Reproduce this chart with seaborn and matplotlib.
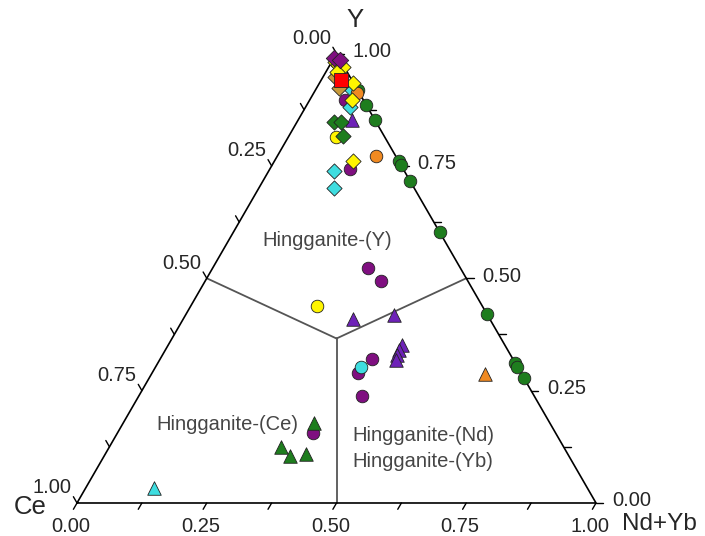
import numpy as np
import matplotlib
matplotlib.use("Agg")
import matplotlib.pyplot as plt
import seaborn as sns

sns.set_style("white")
plt.rcParams['font.family'] = ['Liberation Sans', 'DejaVu Sans']

# ---- data: ternary fractions (Y, Nd+Yb, Ce) ----
purple_diamond_Y  = [0.990, 0.985]
purple_diamond_Nd = [0.000, 0.015]

yellow_diamond_Y  = [0.981, 0.974, 0.970, 0.959, 0.934, 0.897, 0.761]
yellow_diamond_Nd = [0.007, 0.016, 0.027, 0.021, 0.064, 0.081, 0.151]

tan_diamond_Y  = [0.948, 0.923]
tan_diamond_Nd = [0.023, 0.043]

red_square_Y  = [0.941]
red_square_Nd = [0.038]

cyan_diamond_Y  = [0.919, 0.881, 0.739, 0.701]
cyan_diamond_Nd = [0.070, 0.085, 0.126, 0.145]

orange_circle_Y  = [0.912, 0.772]
orange_circle_Nd = [0.083, 0.190]

green_circle_Y  = [0.919, 0.885, 0.852, 0.761, 0.752, 0.716, 0.603, 0.420, 0.311, 0.303, 0.278]
green_circle_Nd = [0.081, 0.115, 0.148, 0.239, 0.248, 0.284, 0.397, 0.580, 0.689, 0.697, 0.722]

green_diamond_Y  = [0.848, 0.848, 0.817]
green_diamond_Nd = [0.071, 0.085, 0.104]

purple_circle_Y  = [0.897, 0.743, 0.523, 0.494, 0.320, 0.289, 0.238, 0.156]
purple_circle_Nd = [0.068, 0.154, 0.299, 0.339, 0.408, 0.397, 0.430, 0.377]

violet_triangle_Y  = [0.852, 0.409, 0.418, 0.352, 0.340, 0.329, 0.318]
violet_triangle_Nd = [0.104, 0.327, 0.402, 0.450, 0.450, 0.452, 0.456]

yellow_circle_Y  = [0.814, 0.438]
yellow_circle_Nd = [0.092, 0.243]

cyan_circle_Y  = [0.303]
cyan_circle_Nd = [0.396]

orange_triangle_Y  = [0.287]
orange_triangle_Nd = [0.643]

green_triangle_Y  = [0.178, 0.125, 0.105, 0.109]
green_triangle_Nd = [0.368, 0.331, 0.358, 0.387]

cyan_triangle_Y  = [0.033]
cyan_triangle_Nd = [0.132]

# field boundaries (Y, Nd+Yb): center point and edge midpoints
center_Y, center_Nd = 0.366, 0.317
boundary_Y  = [0.5, 0.5, 0.0]
boundary_Nd = [0.0, 0.5, 0.5]

tick_values = [0.0, 0.25, 0.5, 0.75, 1.0]
tick_labels = ["0.00", "0.25", "0.50", "0.75", "1.00"]
minor_ticks = [0.125, 0.375, 0.625, 0.875]

H = np.sqrt(3) / 2


def tern(Y, Nd):
    Y = np.asarray(Y, float)
    Nd = np.asarray(Nd, float)
    return Nd + Y / 2, Y * H


fig = plt.figure(figsize=(7.05, 5.36), dpi=100)
ax = fig.add_axes([0, 0, 1, 1])
ax.set_xlim(-0.1484, 1.2100)
ax.set_ylim(-0.0636, 0.9692)
ax.axis("off")

# triangle outline
tx, ty = tern([0, 0, 1, 0], [0, 1, 0, 0])
ax.plot(tx, ty, color="black", lw=1.2, zorder=2, solid_joinstyle="miter")

# boundaries
cx, cy = tern([center_Y], [center_Nd])
for by, bn in zip(boundary_Y, boundary_Nd):
    ex, ey = tern([by], [bn])
    ax.plot([cx[0], ex[0]], [cy[0], ey[0]], color="#555555", lw=1.3, zorder=1)

# ticks
L = 0.014
for t in tick_values + minor_ticks:
    # bottom axis (Nd+Yb)
    px, py = tern([0], [t])
    ax.plot([px[0], px[0] - 0.5 * L], [py[0], py[0] - H * L], color="black", lw=1.0)
    # left axis (Ce), Ce = t
    px, py = tern([1 - t], [0])
    ax.plot([px[0], px[0] - 0.5 * L], [py[0], py[0] + H * L], color="black", lw=1.0)
    # right axis (Y)
    px, py = tern([t], [1 - t])
    ax.plot([px[0], px[0] + L], [py[0], py[0]], color="black", lw=1.0)

fs_tick = 14.5
for t, lab in zip(tick_values, tick_labels):
    px, py = tern([0], [t])
    ax.text(px[0] - 0.0116, py[0] - 0.0445, lab, ha="center", va="center", fontsize=fs_tick)
    px, py = tern([1 - t], [0])
    ax.text(px[0] - 0.048, py[0] + 0.029, lab, ha="center", va="center", fontsize=fs_tick)
    px, py = tern([t], [1 - t])
    ax.text(px[0] + 0.069, py[0] + 0.004, lab, ha="center", va="center", fontsize=fs_tick)

# axis titles
ax.text(0.536, 0.931, "Y", ha="center", va="center", fontsize=18.5)
ax.text(-0.0906, -0.0077, "Ce", ha="center", va="center", fontsize=18.5)
ax.text(1.122, -0.041, "Nd+Yb", ha="center", va="center", fontsize=17.5)

# field labels
lab_col = "#454545"
ax.text(0.3565, 0.5067, "Hingganite-(Y)", ha="left", va="center", fontsize=14.5, color=lab_col)
ax.text(0.4258, 0.1503, "Hingganite-(Ce)", ha="right", va="center", fontsize=14.5, color=lab_col)
ax.text(0.5299, 0.131, "Hingganite-(Nd)", ha="left", va="center", fontsize=14.5, color=lab_col)
ax.text(0.5299, 0.0809, "Hingganite-(Yb)", ha="left", va="center", fontsize=14.5, color=lab_col)

PURPLE = "#7F0F80"
VIOLET = "#6E22B8"
GREEN = "#1E7D1E"
YELLOW = "#FFF500"
CYAN = "#3EDDE0"
ORANGE = "#F08A22"
RED = "#FF0000"
TAN = "#C89A3A"

series = [
    (green_circle_Y, green_circle_Nd, "o", GREEN, 82),
    (purple_circle_Y, purple_circle_Nd, "o", PURPLE, 82),
    (violet_triangle_Y, violet_triangle_Nd, "^", VIOLET, 95),
    (yellow_circle_Y, yellow_circle_Nd, "o", YELLOW, 82),
    (cyan_circle_Y, cyan_circle_Nd, "o", CYAN, 82),
    (orange_triangle_Y, orange_triangle_Nd, "^", ORANGE, 95),
    (green_triangle_Y, green_triangle_Nd, "^", GREEN, 95),
    (cyan_triangle_Y, cyan_triangle_Nd, "^", CYAN, 95),
    (green_diamond_Y, green_diamond_Nd, "D", GREEN, 60),
    (cyan_diamond_Y, cyan_diamond_Nd, "D", CYAN, 60),
    (orange_circle_Y, orange_circle_Nd, "o", ORANGE, 82),
    (tan_diamond_Y, tan_diamond_Nd, "D", TAN, 60),
    (yellow_diamond_Y, yellow_diamond_Nd, "D", YELLOW, 60),
    (purple_diamond_Y, purple_diamond_Nd, "D", PURPLE, 70),
    (red_square_Y, red_square_Nd, "s", RED, 100),
]

for z, (Yv, Nv, m, c, s) in enumerate(series):
    x, y = tern(Yv, Nv)
    sns.scatterplot(x=x, y=y, marker=m, color=c, s=s, edgecolor="#222222",
                    linewidth=0.6, ax=ax, zorder=3 + z, legend=False)

ax.set_xlim(-0.1484, 1.2100)
ax.set_ylim(-0.0636, 0.9692)
fig.savefig("out.png", dpi=100, facecolor="white")
